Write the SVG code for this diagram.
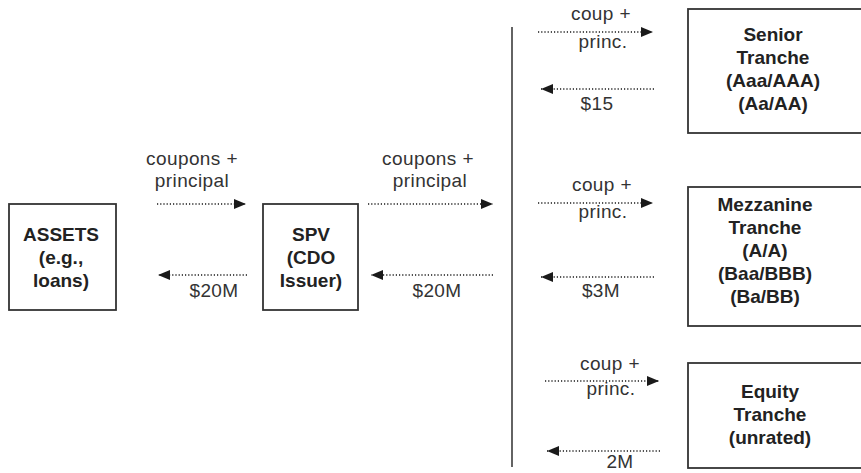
<svg xmlns="http://www.w3.org/2000/svg" width="861" height="473" viewBox="0 0 861 473">
  <defs>
    <marker id="head" markerUnits="userSpaceOnUse" markerWidth="12" markerHeight="10" refX="12" refY="5" orient="auto">
      <path d="M0,0 L12,5 L0,10 z" fill="#1a1a1a"/>
    </marker>
    <style>
      .box { fill: #ffffff; stroke: #333333; stroke-width: 1.8; }
      .title { font-family: "Liberation Sans", Arial, sans-serif; font-size: 19px; font-weight: bold; fill: #222222; text-anchor: middle; }
      .lbl { font-family: "Liberation Sans", Arial, sans-serif; font-size: 19px; fill: #333333; text-anchor: middle; letter-spacing: 0.4px; }
      .flow { stroke: #1a1a1a; stroke-width: 1.6; stroke-dasharray: 1.2 2; fill: none; marker-end: url(#head); }
      .divider { stroke: #222222; stroke-width: 1.4; }
    </style>
  </defs>
  <rect width="861" height="473" fill="#ffffff"/>

  <!-- connectors -->
  <g id="connectors">
    <line class="divider" x1="512" y1="27" x2="512" y2="467"/>
    <!-- assets <-> spv -->
    <line class="flow" x1="157" y1="204" x2="246" y2="204"/>
    <line class="flow" x1="247" y1="275" x2="158" y2="275"/>
    <!-- spv <-> tranches -->
    <line class="flow" x1="368" y1="204" x2="493" y2="204"/>
    <line class="flow" x1="493" y1="275" x2="371" y2="275"/>
    <!-- senior -->
    <line class="flow" x1="538" y1="32" x2="653" y2="32"/>
    <line class="flow" x1="654" y1="89" x2="541" y2="89"/>
    <!-- mezzanine -->
    <line class="flow" x1="538" y1="203" x2="653" y2="203"/>
    <line class="flow" x1="654" y1="277" x2="541" y2="277"/>
    <!-- equity -->
    <line class="flow" x1="545" y1="381" x2="659" y2="381"/>
    <line class="flow" x1="660" y1="451" x2="547" y2="451"/>
  </g>

  <!-- connector labels -->
  <g id="labels">
    <text class="lbl" x="192" y="165">coupons +</text>
    <text class="lbl" x="192" y="187">principal</text>
    <text class="lbl" x="214" y="297">$20M</text>

    <text class="lbl" x="428" y="165">coupons +</text>
    <text class="lbl" x="430" y="187">principal</text>
    <text class="lbl" x="437" y="297">$20M</text>

    <text class="lbl" x="601" y="20">coup +</text>
    <text class="lbl" x="603" y="48">princ.</text>
    <text class="lbl" x="597" y="110">$15</text>

    <text class="lbl" x="602" y="191">coup +</text>
    <text class="lbl" x="603" y="218">princ.</text>
    <text class="lbl" x="601" y="297">$3M</text>

    <text class="lbl" x="610" y="370">coup +</text>
    <text class="lbl" x="611" y="395">princ.</text>
    <text class="lbl" x="620" y="468">2M</text>
  </g>

  <g id="assets">
    <rect class="box" x="9" y="204" width="107" height="106"/>
    <text class="title" x="61" y="241">ASSETS</text>
    <text class="title" x="61" y="264">(e.g.,</text>
    <text class="title" x="61" y="287">loans)</text>
  </g>

  <g id="spv">
    <rect class="box" x="263" y="204" width="95" height="106"/>
    <text class="title" x="311" y="241">SPV</text>
    <text class="title" x="311" y="264">(CDO</text>
    <text class="title" x="311" y="287">Issuer)</text>
  </g>

  <g id="senior">
    <rect class="box" x="688" y="9" width="190" height="124"/>
    <text class="title" x="773" y="41">Senior</text>
    <text class="title" x="773" y="64">Tranche</text>
    <text class="title" x="773" y="87">(Aaa/AAA)</text>
    <text class="title" x="773" y="110">(Aa/AA)</text>
  </g>

  <g id="mezzanine">
    <rect class="box" x="688" y="187" width="190" height="139"/>
    <text class="title" x="765" y="211">Mezzanine</text>
    <text class="title" x="765" y="234">Tranche</text>
    <text class="title" x="765" y="257">(A/A)</text>
    <text class="title" x="765" y="280">(Baa/BBB)</text>
    <text class="title" x="765" y="303">(Ba/BB)</text>
  </g>

  <g id="equity">
    <rect class="box" x="688" y="363" width="190" height="105"/>
    <text class="title" x="770" y="398">Equity</text>
    <text class="title" x="770" y="421">Tranche</text>
    <text class="title" x="770" y="444">(unrated)</text>
  </g>
</svg>
